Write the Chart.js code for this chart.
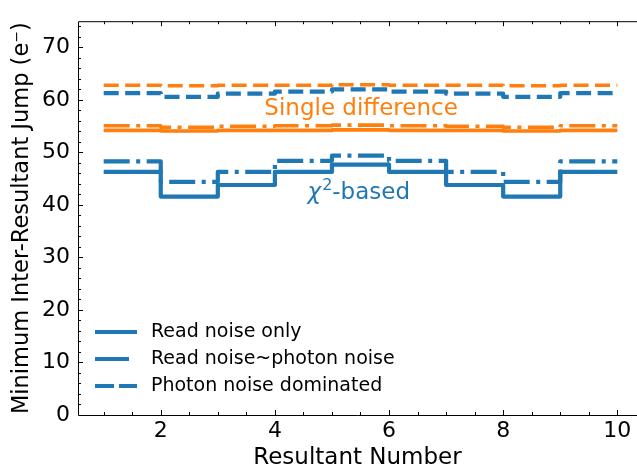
<!DOCTYPE html>
<html>
<head>
<meta charset="utf-8">
<script src="https://cdn.jsdelivr.net/npm/chart.js@4.4.0/dist/chart.umd.min.js"></script>
<style>
  html, body { margin: 0; padding: 0; background: #fff; }
</style>
</head>
<body>
<canvas id="jumpChart" width="637" height="471"></canvas>
<script>
// Resultant number along x, step levels
var resultants = [1, 2, 3, 4, 5, 6, 7, 8, 9, 10];

// chi^2-based threshold (blue)
var chiReadNoise   = [46.3, 41.6, 43.8, 46.3, 47.7, 46.3, 43.8, 41.6, 46.3, 46.3];
var chiMixedNoise  = [48.3, 44.4, 46.3, 48.4, 49.4, 48.4, 46.3, 44.4, 48.3, 48.3];
var chiPhotonNoise = [61.3, 60.6, 61.2, 61.6, 62.0, 61.6, 61.2, 60.6, 61.3, 61.3];

// single difference threshold (orange)
var sdReadNoise   = [54.2, 54.1, 54.2, 54.2, 54.3, 54.2, 54.2, 54.1, 54.2, 54.2];
var sdMixedNoise  = [55.1, 54.8, 55.0, 55.1, 55.2, 55.1, 55.0, 54.8, 55.1, 55.1];
var sdPhotonNoise = [62.8, 62.7, 62.8, 62.8, 62.9, 62.8, 62.8, 62.7, 62.8, 62.8];

// tick labels
var xTicks = [2, 4, 6, 8, 10];
var yTicks = [0, 10, 20, 30, 40, 50, 60, 70];
var legendLabels = ['Read noise only', 'Read noise~photon noise', 'Photon noise dominated'];

var blue = '#1f77b4';
var orange = '#ff7f0e';
var solidDash = [];
var dashDotDash = [26, 6.5, 4, 6.5];
var dashedDash = [15, 6.5];
var FONT = "'DejaVu Sans', sans-serif";

function toPoints(values) {
    return resultants.map(function(x, i) {
        return { x: x, y: values[i] };
    });
}

function stepLine(label, values, color, dash, width) {
    return {
        label: label,
        data: toPoints(values),
        borderColor: color,
        borderWidth: width,
        borderDash: dash,
        borderCapStyle: 'butt',
        borderJoinStyle: 'round',
        stepped: true,
        pointRadius: 0,
        fill: false
    };
}

// Inward ticks, spines, annotations and legend
var figureExtras = {
    id: 'figureExtras',
    afterDraw: function(chart) {
        var ctx = chart.ctx;
        var area = chart.chartArea;
        var xs = chart.scales.x;
        var ys = chart.scales.y;
        ctx.save();

        // spines (the right one is cut off in the original)
        ctx.strokeStyle = '#000';
        ctx.lineWidth = 1;
        ctx.beginPath();
        ctx.moveTo(area.right, area.top + 0.5);
        ctx.lineTo(area.left + 0.5, area.top + 0.5);
        ctx.lineTo(area.left + 0.5, area.bottom + 0.5);
        ctx.lineTo(area.right, area.bottom + 0.5);
        ctx.stroke();

        // x ticks: major every 2, minor every 0.5
        var v, px, len;
        ctx.beginPath();
        for (v = 1; v <= 10.01; v += 0.5) {
            px = Math.round(xs.getPixelForValue(v)) + 0.5;
            len = (v % 2 === 0) ? 5 : 3;
            ctx.moveTo(px, area.bottom);
            ctx.lineTo(px, area.bottom - len);
            ctx.moveTo(px, area.top);
            ctx.lineTo(px, area.top + len);
        }
        // y ticks: major every 10, minor every 2
        for (v = 2; v <= 74; v += 2) {
            px = Math.round(ys.getPixelForValue(v)) + 0.5;
            len = (v % 10 === 0) ? 5 : 3;
            ctx.moveTo(area.left, px);
            ctx.lineTo(area.left + len, px);
        }
        ctx.stroke();

        // annotations
        ctx.textBaseline = 'alphabetic';
        ctx.textAlign = 'center';
        ctx.fillStyle = orange;
        ctx.font = '23px ' + FONT;
        ctx.fillText('Single difference', xs.getPixelForValue(5.51), ys.getPixelForValue(57.2));

        var cx = xs.getPixelForValue(5.47);
        var by = ys.getPixelForValue(41.1);
        ctx.textAlign = 'left';
        ctx.fillStyle = blue;
        ctx.font = 'italic 23px ' + FONT;
        var wChi = ctx.measureText('\u03C7').width;
        ctx.font = '16px ' + FONT;
        var wTwo = ctx.measureText('2').width;
        ctx.font = '23px ' + FONT;
        var wRest = ctx.measureText('-based').width;
        var x0 = cx - (wChi + wTwo + 1 + wRest) / 2;
        ctx.font = 'italic 23px ' + FONT;
        ctx.fillText('\u03C7', x0, by);
        ctx.font = '16px ' + FONT;
        ctx.fillText('2', x0 + wChi + 1, by - 9);
        ctx.font = '23px ' + FONT;
        ctx.fillText('-based', x0 + wChi + wTwo + 1, by);

        // legend (blue lines only)
        var dashes = [solidDash, [34, 9, 4, 9], [19, 5]];
        var rows = [332, 359, 386];
        ctx.font = '19px ' + FONT;
        ctx.textBaseline = 'middle';
        ctx.fillStyle = '#000';
        for (var i = 0; i < legendLabels.length; i++) {
            ctx.strokeStyle = blue;
            ctx.lineWidth = 4.2;
            ctx.lineCap = 'butt';
            ctx.setLineDash(dashes[i]);
            ctx.beginPath();
            ctx.moveTo(95, rows[i]);
            ctx.lineTo(137, rows[i]);
            ctx.stroke();
            ctx.setLineDash([]);
            ctx.fillText(legendLabels[i], 151, rows[i]);
        }
        ctx.restore();
    }
};

var data = {
    datasets: [
        stepLine('Read noise only', chiReadNoise, blue, solidDash, 4.2),
        stepLine('Read noise~photon noise', chiMixedNoise, blue, dashDotDash, 4.2),
        stepLine('Photon noise dominated', chiPhotonNoise, blue, dashedDash, 4.2),
        stepLine('SD read noise only', sdReadNoise, orange, solidDash, 3.6),
        stepLine('SD read noise~photon noise', sdMixedNoise, orange, dashDotDash, 3.6),
        stepLine('SD photon noise dominated', sdPhotonNoise, orange, dashedDash, 3.6)
    ]
};

var options = {
    responsive: false,
    animation: false,
    layout: { padding: { top: 15, right: 0, bottom: 0, left: 0 } },
    plugins: {
        legend: { display: false },
        tooltip: { enabled: false }
    },
    scales: {
        x: {
            type: 'linear',
            min: 0.55,
            max: 10.345,
            afterBuildTicks: function(scale) {
                scale.ticks = xTicks.map(function(v) { return { value: v }; });
            },
            afterFit: function(scale) { scale.height = 56; },
            grid: { display: false, drawTicks: false },
            border: { display: false },
            ticks: {
                color: '#000',
                padding: 3,
                maxRotation: 0,
                font: { family: FONT, size: 22 }
            },
            title: {
                display: true,
                text: 'Resultant Number',
                color: '#000',
                padding: { top: 0, bottom: 0 },
                font: { family: FONT, size: 23, lineHeight: 1.1 }
            }
        },
        y: {
            type: 'linear',
            min: 0,
            max: 75,
            afterBuildTicks: function(scale) {
                scale.ticks = yTicks.map(function(v) { return { value: v }; });
            },
            afterFit: function(scale) { scale.width = 78; },
            grid: { display: false, drawTicks: false },
            border: { display: false },
            ticks: {
                color: '#000',
                padding: 8,
                font: { family: FONT, size: 22 }
            },
            title: {
                display: true,
                text: 'Minimum Inter-Resultant Jump (e\u207B)',
                color: '#000',
                padding: { top: 9, bottom: 0 },
                font: { family: FONT, size: 22.5, lineHeight: 1.2 }
            }
        }
    }
};

var ctx = document.getElementById('jumpChart').getContext('2d');
var jumpChart = new Chart(ctx, {
    type: 'line',
    data: data,
    options: options,
    plugins: [figureExtras]
});
</script>
</body>
</html>
